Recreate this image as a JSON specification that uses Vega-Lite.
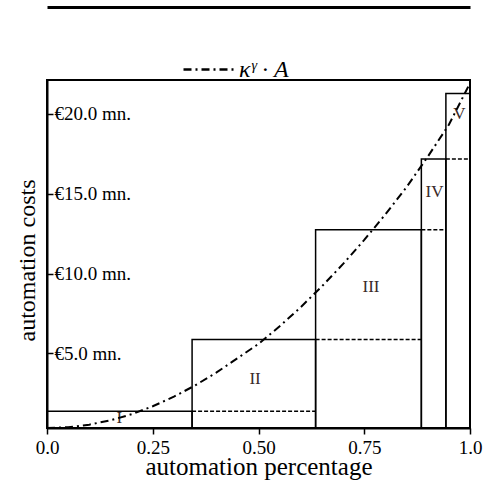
{
  "$schema": "https://vega.github.io/schema/vega-lite/v6.json",
  "width": 423,
  "height": 348,
  "autosize": {"type": "none"},
  "padding": {"left": 47, "top": 80, "right": 19, "bottom": 58},
  "background": "white",
  "config": {
    "view": {"stroke": "black", "strokeWidth": 2},
    "font": "Liberation Serif"
  },
  "resolve": {"axis": {"x": "independent"}},
  "datasets": {
    "bars": [
      {"x0": 0.0, "x1": 0.343, "top": 1.385, "label": "I", "lx": 0.171, "ly": 0.95},
      {"x0": 0.343, "x1": 0.635, "top": 5.88, "label": "II", "lx": 0.492, "ly": 3.43},
      {"x0": 0.635, "x1": 0.885, "top": 12.73, "label": "III", "lx": 0.766, "ly": 9.17},
      {"x0": 0.885, "x1": 0.943, "top": 17.16, "label": "IV", "lx": 0.916, "ly": 15.1},
      {"x0": 0.943, "x1": 1.0, "top": 21.25, "label": "V", "lx": 0.975, "ly": 20.0}
    ],
    "dashes": [
      {"a": 0.343, "b": 0.635, "v": 1.385},
      {"a": 0.635, "b": 0.885, "v": 5.88},
      {"a": 0.885, "b": 0.943, "v": 12.73},
      {"a": 0.943, "b": 1.0, "v": 17.16}
    ],
    "curve": [
      {"x": 0.0, "v": 0.34, "series": "κᵞ · A"},
      {"x": 0.05, "v": 0.39, "series": "κᵞ · A"},
      {"x": 0.1, "v": 0.55, "series": "κᵞ · A"},
      {"x": 0.15, "v": 0.82, "series": "κᵞ · A"},
      {"x": 0.2, "v": 1.2, "series": "κᵞ · A"},
      {"x": 0.25, "v": 1.7, "series": "κᵞ · A"},
      {"x": 0.3, "v": 2.3, "series": "κᵞ · A"},
      {"x": 0.35, "v": 3.0, "series": "κᵞ · A"},
      {"x": 0.4, "v": 3.8, "series": "κᵞ · A"},
      {"x": 0.45, "v": 4.7, "series": "κᵞ · A"},
      {"x": 0.5, "v": 5.6, "series": "κᵞ · A"},
      {"x": 0.55, "v": 6.7, "series": "κᵞ · A"},
      {"x": 0.6, "v": 7.9, "series": "κᵞ · A"},
      {"x": 0.65, "v": 9.2, "series": "κᵞ · A"},
      {"x": 0.7, "v": 10.6, "series": "κᵞ · A"},
      {"x": 0.75, "v": 12.1, "series": "κᵞ · A"},
      {"x": 0.8, "v": 13.7, "series": "κᵞ · A"},
      {"x": 0.85, "v": 15.4, "series": "κᵞ · A"},
      {"x": 0.9, "v": 17.3, "series": "κᵞ · A"},
      {"x": 0.95, "v": 19.3, "series": "κᵞ · A"},
      {"x": 1.0, "v": 21.9, "series": "κᵞ · A"}
    ]
  },
  "layer": [
    {
      "data": {"name": "bars"},
      "mark": {"type": "rect", "fill": null, "fillOpacity": 0, "stroke": "black", "strokeWidth": 1.5},
      "encoding": {
        "x": {
          "field": "x0", "type": "quantitative",
          "scale": {"domain": [0, 1], "nice": false, "zero": false},
          "axis": {
            "title": "automation percentage",
            "values": [0, 0.25, 0.5, 0.75, 1],
            "labelExpr": "datum.value == 0 ? '0.0' : datum.value == 1 ? '1.0' : format(datum.value, '.2f')",
            "grid": false,
            "domainColor": "black", "domainWidth": 2,
            "tickColor": "black", "tickWidth": 1.5, "tickSize": 6,
            "labelColor": "black", "labelFontSize": 19, "labelPadding": 4, "labelFlush": false,
            "titleColor": "black", "titleFontSize": 25, "titleFontWeight": "normal", "titlePadding": -3
          }
        },
        "x2": {"field": "x1"},
        "y": {
          "field": "top", "type": "quantitative",
          "scale": {"domain": [0.34, 22.1], "nice": false, "zero": false},
          "axis": {
            "title": "automation costs",
            "values": [5, 10, 15, 20],
            "labelExpr": "'€' + format(datum.value, '.1f') + ' mn.'",
            "grid": false,
            "domainColor": "black", "domainWidth": 2,
            "tickColor": "black", "tickWidth": 1.5, "tickSize": -6,
            "labelAlign": "left", "labelPadding": -1,
            "labelColor": "black", "labelFontSize": 19,
            "titleColor": "black", "titleFontSize": 24, "titleFontWeight": "normal", "titlePadding": 7,
            "titleY": 180
          }
        },
        "y2": {"datum": 0.34}
      }
    },
    {
      "data": {"name": "dashes"},
      "mark": {"type": "rule", "stroke": "black", "strokeWidth": 1.5, "strokeDash": [4, 2]},
      "encoding": {
        "x": {
          "field": "a", "type": "quantitative",
          "axis": {
            "orient": "top", "offset": 73, "title": null,
            "labels": false, "ticks": false, "grid": false,
            "domainColor": "black", "domainWidth": 3
          }
        },
        "x2": {"field": "b"},
        "y": {"field": "v", "type": "quantitative"}
      }
    },
    {
      "data": {"name": "bars"},
      "mark": {"type": "text", "fontSize": 17, "color": "#3a2a2a", "font": "Liberation Serif"},
      "encoding": {
        "x": {"field": "lx", "type": "quantitative", "axis": null},
        "y": {"field": "ly", "type": "quantitative"},
        "text": {"field": "label"}
      }
    },
    {
      "data": {"name": "curve"},
      "mark": {"type": "line", "stroke": "black", "strokeWidth": 2},
      "encoding": {
        "x": {"field": "x", "type": "quantitative", "axis": null},
        "y": {"field": "v", "type": "quantitative"},
        "strokeDash": {
          "field": "series", "type": "nominal",
          "scale": {"range": [[8, 4, 2, 4]]},
          "legend": {
            "title": null,
            "orient": "none",
            "legendX": 135,
            "legendY": -37,
            "padding": 0,
            "symbolType": "stroke",
            "symbolSize": 2500,
            "symbolStrokeWidth": 2.5,
            "symbolStrokeColor": "black",
            "labelFontSize": 24,
            "labelFontStyle": "italic",
            "labelColor": "black",
            "labelFont": "Liberation Serif",
            "labelOffset": 4
          }
        }
      }
    }
  ]
}
